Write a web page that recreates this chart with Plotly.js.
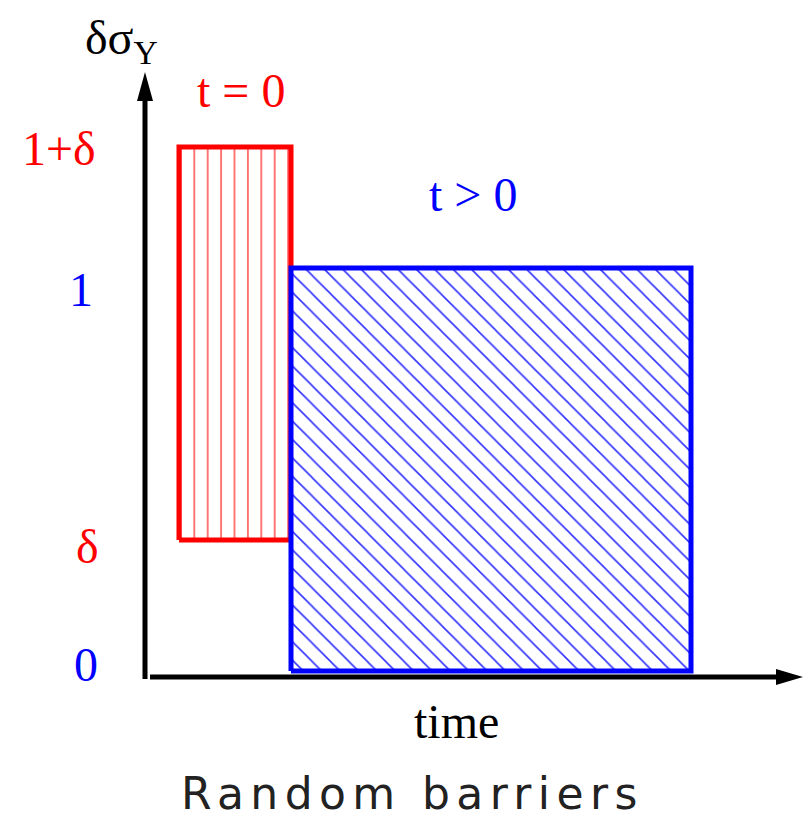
<!DOCTYPE html>
<html>
<head>
<meta charset="utf-8">
<script src="https://cdn.plot.ly/plotly-3.0.1.min.js"></script>
<style>html,body{margin:0;padding:0;background:#fff;}#chart{width:803px;height:819px;}</style>
</head>
<body>
<div id="chart"></div>
<script>
// ---- data ----
const barrierNames = ["t = 0", "t > 0"];
const redTime = [0.085, 0.365];     // time interval of the t=0 barrier
const redLevel = [0.325, 1.30];     // delta .. 1+delta
const blueTime = [0.365, 1.365];    // time interval of the t>0 barrier
const blueLevel = [0, 1];           // 0 .. 1
const levelLabels = ["1+δ", "1", "δ", "0"];

// ---- figure geometry ----
const W = 803, H = 819;
const PX = x => x / W;          // pixel -> paper
const PY = y => 1 - y / H;

function rect(xs, ys) {
  return { x: [xs[0], xs[1], xs[1], xs[0], xs[0]], y: [ys[0], ys[0], ys[1], ys[1], ys[0]] };
}
const r = rect(redTime, redLevel);
const b = rect(blueTime, blueLevel);

const traces = [
  {
    x: r.x, y: r.y, name: barrierNames[0], type: 'scatter', mode: 'lines',
    line: { color: '#ff0000', width: 5 }, fill: 'toself', fillcolor: 'rgba(0,0,0,0)',
    fillpattern: { shape: '|', fgcolor: '#ff2020', bgcolor: '#ffffff', size: 13.4, solidity: 0.09 },
    hoverinfo: 'skip'
  },
  {
    x: b.x, y: b.y, name: barrierNames[1], type: 'scatter', mode: 'lines',
    line: { color: '#0000ff', width: 5 }, fill: 'toself', fillcolor: 'rgba(0,0,0,0)',
    fillpattern: { shape: '\\', fgcolor: '#3030ff', bgcolor: '#ffffff', size: 13, solidity: 0.12 },
    hoverinfo: 'skip'
  }
];

const serif = "Liberation Serif, Times New Roman, serif";
function ann(text, x, y, color, size, fam) {
  return { text: text, xref: 'paper', yref: 'paper', x: PX(x), y: PY(y), xanchor: 'center', yanchor: 'middle',
           showarrow: false, font: { family: fam || serif, size: size, color: color } };
}

const annotations = [
  ann("δσ<sub>Y</sub>", 121, 41, '#000', 48),
  ann(barrierNames[0], 241, 90, '#ff0000', 48),
  ann(barrierNames[1], 473, 194, '#0000ff', 48),
  ann(levelLabels[0], 59, 148, '#ff0000', 48),
  ann(levelLabels[1], 81, 289, '#0000ff', 48),
  ann(levelLabels[2], 87, 546, '#ff0000', 48),
  ann(levelLabels[3], 86, 664, '#0000ff', 48),
  ann("time", 456, 721, '#000', 48),
  ann("Random barriers", 409, 793, '#222', 44, "DejaVu Sans, sans-serif")
];

const shapes = [
  // y axis
  { type: 'line', xref: 'paper', yref: 'paper', x0: PX(145), x1: PX(145), y0: PY(679), y1: PY(96), line: { color: '#000', width: 5 } },
  { type: 'path', xref: 'paper', yref: 'paper', path: `M ${PX(145)} ${PY(72)} L ${PX(137)} ${PY(101)} L ${PX(153)} ${PY(101)} Z`, fillcolor: '#000', line: { width: 0 } },
  // x axis
  { type: 'line', xref: 'paper', yref: 'paper', x0: PX(150), x1: PX(780), y0: PY(677), y1: PY(677), line: { color: '#000', width: 5 } },
  { type: 'path', xref: 'paper', yref: 'paper', path: `M ${PX(803)} ${PY(677)} L ${PX(776)} ${PY(669)} L ${PX(776)} ${PY(685)} Z`, fillcolor: '#000', line: { width: 0 } }
];

const layout = {
  width: W, height: H,
  margin: { l: 0, r: 0, t: 0, b: 0 },
  paper_bgcolor: '#fff', plot_bgcolor: '#fff',
  showlegend: false,
  xaxis: { range: [-0.3625, 1.645], visible: false, fixedrange: true },
  yaxis: { range: [-0.3672, 1.665], visible: false, fixedrange: true },
  annotations: annotations,
  shapes: shapes
};

Plotly.newPlot('chart', traces, layout, { staticPlot: true }).then(function () {
  // widen the caption's letter spacing like the reference typeface
  document.querySelectorAll('.annotation-text').forEach(function (t) {
    if (t.textContent === 'Random barriers') {
      t.style.letterSpacing = '6.4px';
      t.setAttribute('transform', 'translate(3,0)');
    }
  });
});
</script>
</body>
</html>
